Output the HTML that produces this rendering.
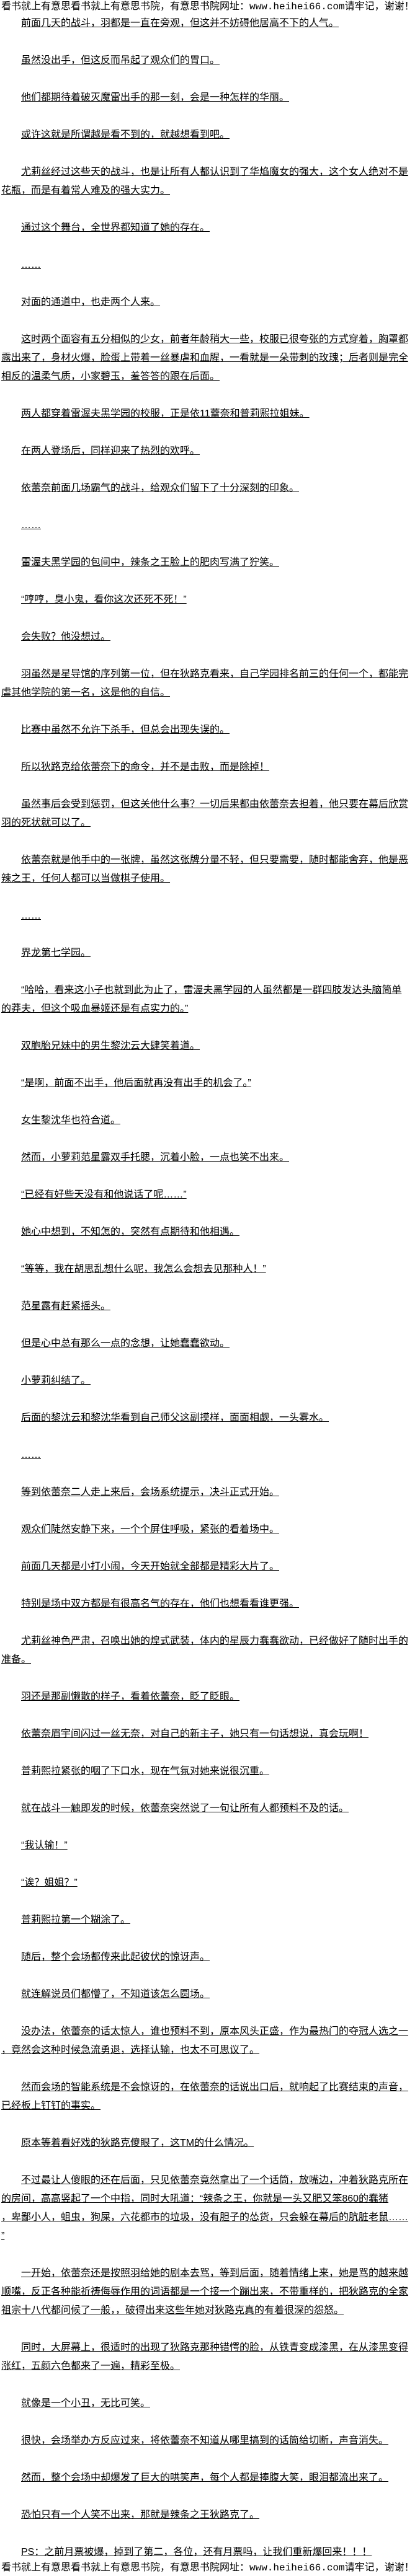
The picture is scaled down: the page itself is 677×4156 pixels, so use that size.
<!DOCTYPE html>
<html lang="zh">
<head>
<meta charset="utf-8">
<style>
html,body{margin:0;padding:0;background:#fff;}
body{width:677px;height:4156px;overflow:hidden;color:#000;
font-family:"Liberation Sans","Noto Sans CJK SC",sans-serif;font-size:16px;}
.hd{height:23px;line-height:23px;white-space:nowrap;overflow:hidden;padding-left:2px;font-family:"Liberation Mono","Noto Sans CJK SC",monospace;}
.ft{height:20px;line-height:20px;white-space:nowrap;overflow:hidden;padding-left:2px;font-family:"Liberation Mono","Noto Sans CJK SC",monospace;}
.c{padding-left:2px;}
p{margin:0 0 30px 0;line-height:30px;white-space:nowrap;text-indent:32px;text-decoration:underline;}
p:last-child{margin-bottom:0;}
</style>
</head>
<body>
<div class="hd">看书就上有意思看书就上有意思书院，有意思书院网址：www.heihei66.com请牢记，谢谢！</div>
<div class="c">
<p>前面几天的战斗，羽都是一直在旁观，但这并不妨碍他居高不下的人气。</p>
<p>虽然没出手，但这反而吊起了观众们的胃口。</p>
<p>他们都期待着破灭魔雷出手的那一刻，会是一种怎样的华丽。</p>
<p>或许这就是所谓越是看不到的，就越想看到吧。</p>
<p>尤莉丝经过这些天的战斗，也是让所有人都认识到了华焰魔女的强大，这个女人绝对不是<br>花瓶，而是有着常人难及的强大实力。</p>
<p>通过这个舞台，全世界都知道了她的存在。</p>
<p>……</p>
<p>对面的通道中，也走两个人来。</p>
<p>这时两个面容有五分相似的少女，前者年龄稍大一些，校服已很夸张的方式穿着，胸罩都<br>露出来了，身材火爆，脸蛋上带着一丝暴虐和血腥，一看就是一朵带刺的玫瑰；后者则是完全<br>相反的温柔气质，小家碧玉，羞答答的跟在后面。</p>
<p>两人都穿着雷渥夫黑学园的校服，正是依11蕾奈和普莉熙拉姐妹。</p>
<p>在两人登场后，同样迎来了热烈的欢呼。</p>
<p>依蕾奈前面几场霸气的战斗，给观众们留下了十分深刻的印象。</p>
<p>……</p>
<p>雷渥夫黑学园的包间中，辣条之王脸上的肥肉写满了狞笑。</p>
<p>“哼哼，臭小鬼，看你这次还死不死！”</p>
<p>会失败？他没想过。</p>
<p>羽虽然是星导馆的序列第一位，但在狄路克看来，自己学园排名前三的任何一个，都能完<br>虐其他学院的第一名，这是他的自信。</p>
<p>比赛中虽然不允许下杀手，但总会出现失误的。</p>
<p>所以狄路克给依蕾奈下的命令，并不是击败，而是除掉！</p>
<p>虽然事后会受到惩罚，但这关他什么事？一切后果都由依蕾奈去担着，他只要在幕后欣赏<br>羽的死状就可以了。</p>
<p>依蕾奈就是他手中的一张牌，虽然这张牌分量不轻，但只要需要，随时都能舍弃，他是恶<br>辣之王，任何人都可以当做棋子使用。</p>
<p>……</p>
<p>界龙第七学园。</p>
<p>“哈哈，看来这小子也就到此为止了，雷渥夫黑学园的人虽然都是一群四肢发达头脑简单<br>的莽夫，但这个吸血暴姬还是有点实力的。”</p>
<p>双胞胎兄妹中的男生黎沈云大肆笑着道。</p>
<p>“是啊，前面不出手，他后面就再没有出手的机会了。”</p>
<p>女生黎沈华也符合道。</p>
<p>然而，小萝莉范星露双手托腮，沉着小脸，一点也笑不出来。</p>
<p>“已经有好些天没有和他说话了呢……”</p>
<p>她心中想到，不知怎的，突然有点期待和他相遇。</p>
<p>“等等，我在胡思乱想什么呢，我怎么会想去见那种人！”</p>
<p>范星露有赶紧摇头。</p>
<p>但是心中总有那么一点的念想，让她蠢蠢欲动。</p>
<p>小萝莉纠结了。</p>
<p>后面的黎沈云和黎沈华看到自己师父这副摸样，面面相觑，一头雾水。</p>
<p>……</p>
<p>等到依蕾奈二人走上来后，会场系统提示，决斗正式开始。</p>
<p>观众们陡然安静下来，一个个屏住呼吸，紧张的看着场中。</p>
<p>前面几天都是小打小闹，今天开始就全部都是精彩大片了。</p>
<p>特别是场中双方都是有很高名气的存在，他们也想看看谁更强。</p>
<p>尤莉丝神色严肃，召唤出她的煌式武装，体内的星辰力蠢蠢欲动，已经做好了随时出手的<br>准备。</p>
<p>羽还是那副懒散的样子，看着依蕾奈，眨了眨眼。</p>
<p>依蕾奈眉宇间闪过一丝无奈，对自己的新主子，她只有一句话想说，真会玩啊！</p>
<p>普莉熙拉紧张的咽了下口水，现在气氛对她来说很沉重。</p>
<p>就在战斗一触即发的时候，依蕾奈突然说了一句让所有人都预料不及的话。</p>
<p>“我认输！”</p>
<p>“诶？姐姐？”</p>
<p>普莉熙拉第一个糊涂了。</p>
<p>随后，整个会场都传来此起彼伏的惊讶声。</p>
<p>就连解说员们都懵了，不知道该怎么圆场。</p>
<p>没办法，依蕾奈的话太惊人，谁也预料不到，原本风头正盛，作为最热门的夺冠人选之一<br>，竟然会这种时候急流勇退，选择认输，也太不可思议了。</p>
<p>然而会场的智能系统是不会惊讶的，在依蕾奈的话说出口后，就响起了比赛结束的声音，<br>已经板上钉钉的事实。</p>
<p>原本等着看好戏的狄路克傻眼了，这TM的什么情况。</p>
<p>不过最让人傻眼的还在后面，只见依蕾奈竟然拿出了一个话筒，放嘴边，冲着狄路克所在<br>的房间，高高竖起了一个中指，同时大吼道：“辣条之王，你就是一头又肥又笨860的蠢猪<br>，卑鄙小人，蛆虫，狗屎，六花都市的垃圾，没有胆子的怂货，只会躲在幕后的肮脏老鼠……<br>”</p>
<p>一开始，依蕾奈还是按照羽给她的剧本去骂，等到后面，随着情绪上来，她是骂的越来越<br>顺嘴，反正各种能祈祷侮辱作用的词语都是一个接一个蹦出来，不带重样的，把狄路克的全家<br>祖宗十八代都问候了一般，，破得出来这些年她对狄路克真的有着很深的怨怒。</p>
<p>同时，大屏幕上，很适时的出现了狄路克那种错愕的脸，从铁青变成漆黑，在从漆黑变得<br>涨红，五颜六色都来了一遍，精彩至极。</p>
<p>就像是一个小丑，无比可笑。</p>
<p>很快，会场举办方反应过来，将依蕾奈不知道从哪里搞到的话筒给切断，声音消失。</p>
<p>然而，整个会场中却爆发了巨大的哄笑声，每个人都是捧腹大笑，眼泪都流出来了。</p>
<p>恐怕只有一个人笑不出来，那就是辣条之王狄路克了。</p>
<p>PS：之前月票被爆，掉到了第二，各位，还有月票吗，让我们重新爆回来！！！</p>
</div>
<div class="ft">看书就上有意思看书就上有意思书院，有意思书院网址：www.heihei66.com请牢记，谢谢！</div>
</body>
</html>
